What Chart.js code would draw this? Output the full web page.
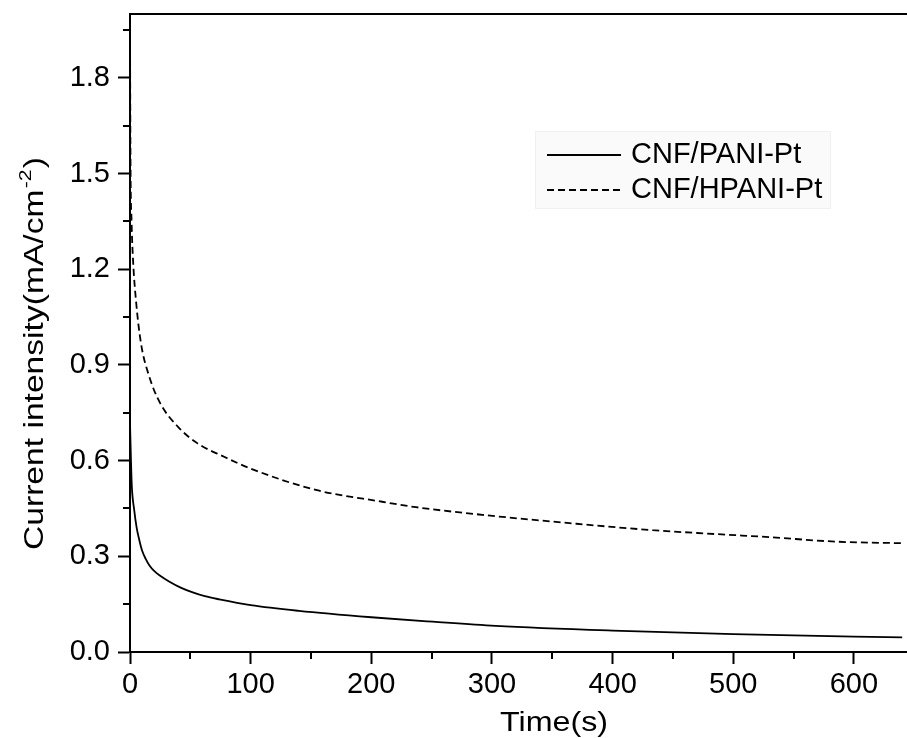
<!DOCTYPE html>
<html>
<head>
<meta charset="utf-8">
<script src="https://cdn.jsdelivr.net/npm/chart.js@4.4.1/dist/chart.umd.min.js"></script>
<style>
html,body{margin:0;padding:0;background:#fff;}
#wrap{position:relative;width:907px;height:738px;}
</style>
</head>
<body>
<div id="wrap"><canvas id="c" width="907" height="738"></canvas></div>
<script>
// ---- data ----
const seriesNames = ["CNF/PANI-Pt", "CNF/HPANI-Pt"];
const timePANI = [0, 0.8, 1.5, 3.5, 5.5, 7.7, 10, 13, 16, 20, 25, 32, 42, 52, 62, 74, 100, 140, 200, 251, 303, 400, 500, 600, 640];
const currentPANI = [0.72, 0.6, 0.52, 0.445, 0.39, 0.351, 0.318, 0.292, 0.272, 0.254, 0.239, 0.222, 0.202, 0.187, 0.175, 0.165, 0.147, 0.129, 0.109, 0.095, 0.082, 0.067, 0.056, 0.048, 0.046];
const timeHPANI = [0, 0.4, 1.3, 2.5, 5, 9, 16, 25, 40, 56, 78, 100, 154, 209, 237, 292, 370, 433, 475, 530, 585, 640];
const currentHPANI = [1.96, 1.55, 1.35, 1.23, 1.10, 0.97, 0.863, 0.78, 0.705, 0.654, 0.612, 0.575, 0.508, 0.471, 0.454, 0.43, 0.402, 0.382, 0.372, 0.36, 0.346, 0.341];
const xTicks = [0, 100, 200, 300, 400, 500, 600];
const xMinorTicks = [50, 150, 250, 350, 450, 550];
const yTicks = [0, 0.3, 0.6, 0.9, 1.2, 1.5, 1.8];
const yMinorTicks = [0.15, 0.45, 0.75, 1.05, 1.35, 1.65, 1.95];
const xTitle = "Time(s)";
const yTitleMain = "Current intensity(mA/cm";
const yTitleSup = "-2";
const yTitleEnd = ")";

const FONT = '"Liberation Sans", Arial, sans-serif';

function pts(xs, ys){ return xs.map((x,i)=>({x:x, y:ys[i]})); }

const decor = {
  id: 'decor',
  afterDraw(chart){
    const ctx = chart.ctx, ca = chart.chartArea;
    const xs = chart.scales.x, ys = chart.scales.y;
    ctx.save();
    ctx.strokeStyle = '#000';
    ctx.lineWidth = 2;
    // top frame line
    ctx.beginPath();
    ctx.moveTo(ca.left - 1, ca.top);
    ctx.lineTo(chart.width, ca.top);
    ctx.stroke();
    // minor ticks
    ctx.beginPath();
    xMinorTicks.forEach(v=>{
      const px = Math.round(xs.getPixelForValue(v));
      ctx.moveTo(px, ca.bottom);
      ctx.lineTo(px, ca.bottom + 7);
    });
    yMinorTicks.forEach(v=>{
      const py = Math.round(ys.getPixelForValue(v));
      ctx.moveTo(ca.left, py);
      ctx.lineTo(ca.left - 7, py);
    });
    ctx.stroke();

    // x title
    ctx.fillStyle = '#000';
    ctx.textBaseline = 'alphabetic';
    ctx.textAlign = 'left';
    ctx.font = '28px ' + FONT;
    let w = ctx.measureText(xTitle).width;
    ctx.save();
    ctx.translate(500, 731);
    ctx.scale(108 / w, 1);
    ctx.fillText(xTitle, 0, 0);
    ctx.restore();

    // y title (rotated, with superscript)
    ctx.save();
    ctx.translate(43, 550);
    ctx.rotate(-Math.PI/2);
    ctx.font = '27px ' + FONT;
    const w1 = ctx.measureText(yTitleMain).width;
    ctx.font = '17px ' + FONT;
    const w2 = ctx.measureText(yTitleSup).width;
    ctx.font = '27px ' + FONT;
    const w3 = ctx.measureText(yTitleEnd).width;
    const total = w1 + w2 + w3 + 2;
    ctx.scale(393 / total, 1);
    ctx.fillText(yTitleMain, 0, 0);
    ctx.font = '17px ' + FONT;
    ctx.fillText(yTitleSup, w1 + 1, -12);
    ctx.font = '27px ' + FONT;
    ctx.fillText(yTitleEnd, w1 + w2 + 2, 0);
    ctx.restore();

    // legend
    ctx.fillStyle = '#fafafa';
    ctx.fillRect(535, 131, 296, 78);
    ctx.strokeStyle = '#f0f0f0';
    ctx.lineWidth = 1;
    ctx.strokeRect(535.5, 131.5, 295, 77);
    const rows = [155, 190];
    chart.data.datasets.forEach((ds, i)=>{
      const y = rows[i];
      ctx.strokeStyle = ds.borderColor;
      ctx.lineWidth = ds.borderWidth;
      ctx.setLineDash(ds.borderDash || []);
      ctx.beginPath();
      ctx.moveTo(547, y);
      ctx.lineTo(621, y);
      ctx.stroke();
      ctx.setLineDash([]);
      ctx.fillStyle = '#000';
      ctx.font = '29px ' + FONT;
      ctx.textBaseline = 'middle';
      ctx.fillText(ds.label, 631, y);
    });
    ctx.restore();
  }
};

new Chart(document.getElementById('c'), {
  type: 'line',
  data: {
    datasets: [
      { label: seriesNames[0], data: pts(timePANI, currentPANI), borderColor: '#000', borderWidth: 1.8,
        pointRadius: 0, fill: false, cubicInterpolationMode: 'monotone' },
      { label: seriesNames[1], data: pts(timeHPANI, currentHPANI), borderColor: '#000', borderWidth: 1.8,
        borderDash: [7, 4], pointRadius: 0, fill: false, cubicInterpolationMode: 'monotone' }
    ]
  },
  options: {
    responsive: false,
    animation: false,
    events: [],
    layout: { padding: { top: 14, right: 0, left: 0, bottom: 0 } },
    plugins: { legend: { display: false }, tooltip: { enabled: false }, title: { display: false } },
    scales: {
      x: {
        type: 'linear', min: 0, max: 644,
        afterBuildTicks: s => { s.ticks = xTicks.map(v=>({value:v})); },
        afterFit: s => { s.height = 86; s.paddingLeft = 0; s.paddingRight = 0; },
        grid: { drawOnChartArea: false, drawTicks: true, tickLength: 12, tickColor: '#000', tickWidth: 2 },
        border: { color: '#000', width: 2 },
        ticks: { color: '#000', padding: 4, maxRotation: 0, autoSkip: false,
          font: { family: FONT, size: 29 }, callback: v => String(v) },
        title: { display: false }
      },
      y: {
        type: 'linear', min: 0, max: 2.0,
        afterBuildTicks: s => { s.ticks = yTicks.map(v=>({value:v})); },
        afterFit: s => { s.width = 130; s.paddingTop = 0; s.paddingBottom = 0; },
        grid: { drawOnChartArea: false, drawTicks: true, tickLength: 12, tickColor: '#000', tickWidth: 2 },
        border: { color: '#000', width: 2 },
        ticks: { color: '#000', padding: 8, autoSkip: false,
          font: { family: FONT, size: 29 }, callback: v => Number(v).toFixed(1) },
        title: { display: false }
      }
    }
  },
  plugins: [decor]
});
</script>
</body>
</html>
